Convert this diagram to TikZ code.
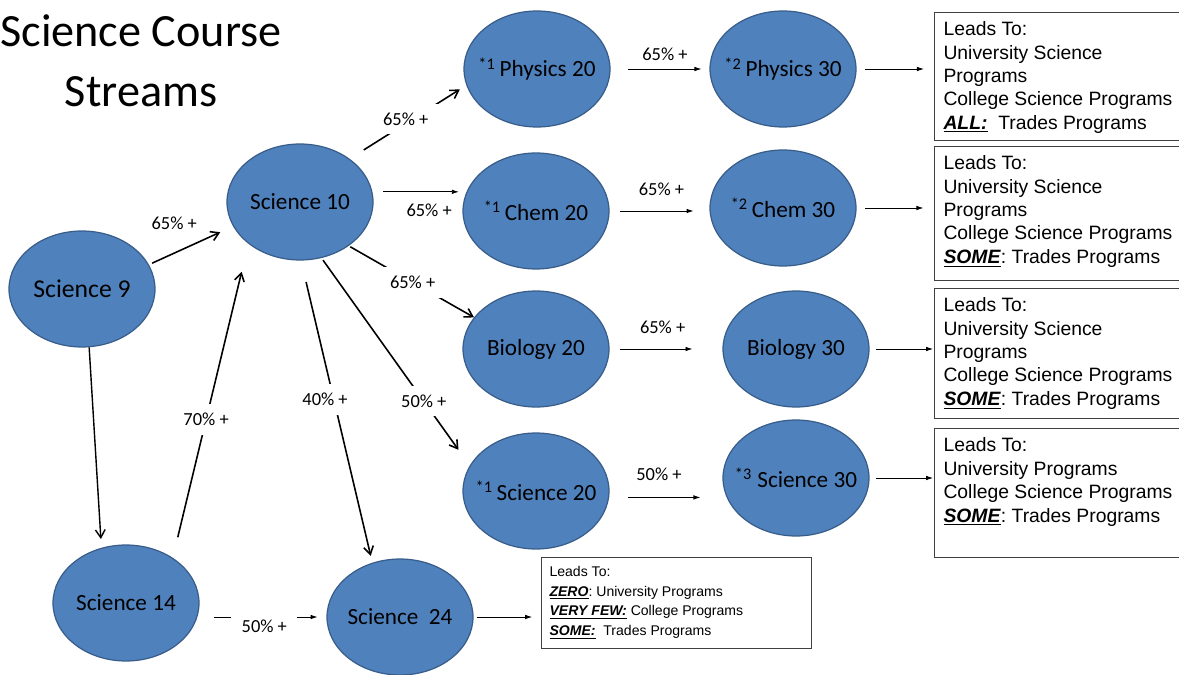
\documentclass[tikz,border=0pt]{standalone}
\usepackage{fontspec}
\usepackage{tikz}
\usetikzlibrary{shapes.geometric,arrows.meta}
\newfontfamily\calibri{Carlito}
\newfontfamily\arial{Liberation Sans}
\definecolor{courseblue}{HTML}{4F81BD}
\definecolor{courseedge}{HTML}{385D8A}
\frenchspacing
\tikzset{
  course/.style={ellipse, fill=courseblue, draw=courseedge, line width=0.7pt,
    minimum width=2.92cm, minimum height=2.32cm, inner xsep=-10pt, inner ysep=0pt,
    font=\calibri\fontsize{13.2}{15}\selectfont},
  leads/.style={draw=black!75, line width=0.6pt, inner xsep=0.18cm, inner ysep=0pt,
    anchor=north west, font=\arial\fontsize{11}{13.3}\selectfont},
  pct/.style={font=\calibri\fontsize{10.5}{12}\selectfont, inner sep=1pt},
  gap/.style={pct, fill=white, inner xsep=6pt, inner ysep=5pt},
  diag/.style={->, >={Straight Barb[length=4.5pt,width=5.5pt]}, line width=0.9pt},
  flat/.style={->, >={Latex[length=4pt,width=2.6pt]}, line width=0.5pt},
}
\newcommand{\leadsbox}[2]{\parbox[c][#1][t]{4.8cm}{\raggedright\rule{0pt}{13.3pt}#2}}
\newcommand{\few}[1]{\underline{\textbf{\textit{#1}}}}

\begin{document}
\begin{tikzpicture}[x=0.02cm,y=-0.02cm]
\useasboundingbox (0,0) rectangle (1179,675);
\node[font=\calibri\fontsize{26.3}{34.6}\selectfont, align=center, anchor=north, inner sep=0pt] (title) at (141,14) {Science Course\\Streams};
% courses
\node[course, font=\calibri\fontsize{14.6}{16}\selectfont] (sci9) at (82,289) {Science 9};
\node[course] (sci10)  at (300,202) {Science 10};
\node[course] (sci14)  at (126,603) {Science 14};
\node[course] (sci24)  at (400,617) {Science\ \ 24};
\node[course] (phy20)  at (537,69)  {\textsuperscript{*1}\,Physics 20};
\node[course] (phy30)  at (783,69)  {\textsuperscript{*2}\,Physics 30};
\node[course] (chem20) at (536,211) {\textsuperscript{*1}\,Chem 20};
\node[course] (chem30) at (783,208) {\textsuperscript{*2}\,Chem 30};
\node[course] (bio20)  at (536,349) {Biology 20};
\node[course] (bio30)  at (796,349) {Biology 30};
\node[course] (sci20)  at (536,491) {\textsuperscript{*1}\,Science 20};
\node[course] (sci30)  at (796,478) {\textsuperscript{*3} Science 30};
% where they lead
\node[leads] (box1) at (934,12)  {\leadsbox{2.56cm}{Leads To:\\University Science\\Programs\\College Science Programs\\\few{ALL:}\ \ Trades Programs}};
\node[leads] (box2) at (934,146) {\leadsbox{2.68cm}{Leads To:\\University Science\\Programs\\College Science Programs\\\few{SOME}: Trades Programs}};
\node[leads] (box3) at (934,288) {\leadsbox{2.6cm}{Leads To:\\University Science\\Programs\\College Science Programs\\\few{SOME}: Trades Programs}};
\node[leads] (box4) at (934,428) {\leadsbox{2.58cm}{Leads To:\\University Programs\\College Science Programs\\\few{SOME}: Trades Programs}};
\node[leads, inner xsep=0.16cm, font=\arial\fontsize{8}{11.2}\selectfont] (box24) at (541,557) {\parbox[c][1.82cm][t]{5.08cm}{\raggedright\rule{0pt}{10.8pt}Leads To:\\\few{ZERO}: University Programs\\\few{VERY FEW:} College Programs\\\few{SOME:}\ \ Trades Programs}};
% streams
\draw[diag, shorten <=2pt, shorten >=8pt] (sci9.20) -- node[pct, above=12pt, pos=0.3] {65\% +} (sci10.200);
\draw[diag, line width=0.8pt, shorten >=5pt] (sci9.-83) -- (sci14.114);
\draw[diag, shorten <=12pt, shorten >=16.4pt] (sci14.44) -- node[gap, pos=0.44] {70\% +} (sci10.219);
\draw[diag, shorten <=9.4pt, shorten >=4.4pt] (sci10.41) -- node[gap, pos=0.48, yshift=2.5pt] {65\% +} (phy20.193);
\draw[flat, shorten <=6pt, shorten >=2pt] (sci10.8) -- node[pct, below=5.5pt, pos=0.63] {65\% +} (sci10.8 -| chem20.west);
\draw[diag, shorten <=1pt] (sci10.-42) -- node[gap, pos=0.51] {65\% +} (bio20.153);
\draw[diag, shorten <=1.5pt, shorten >=11pt] (sci10.-69) -- node[gap, pos=0.69] {50\% +} (sci20.159);
\draw[diag, shorten <=12.5pt, shorten >=4pt] (sci10.-89) -- node[gap, pos=0.46, xshift=-5pt] {40\% +} (sci24.117);
\draw[flat, shorten <=8pt, shorten >=5pt] (sci14.east |- sci24.west) -- node[gap, pos=0.51, yshift=-5pt] {50\% +} (sci24.west);
\draw[flat, shorten <=10pt, shorten >=4.5pt] (phy20.east) -- node[pct, above=3.5pt, pos=0.55] {65\% +} (phy30.west);
\draw[flat, shorten <=5.7pt, shorten >=9pt] (chem20.east) -- node[pct, above=7.5pt, pos=0.52] {65\% +} (chem20.east -| chem30.west);
\draw[flat, shorten <=5.7pt, shorten >=17pt] (bio20.east) -- node[pct, above=7.5pt, pos=0.47] {65\% +} (bio30.west);
\draw[flat, shorten <=10.5pt, shorten >=12.5pt] (sci20.-5) -- node[pct, above=8pt, pos=0.44] {50\% +} (sci20.-5 -| sci30.west);
% to the boxes
\draw[flat, shorten <=5pt, shorten >=5.7pt] (phy30.east) -- (phy30.east -| box1.west);
\draw[flat, shorten <=5pt, shorten >=6pt] (chem30.east) -- (chem30.east -| box2.west);
\draw[flat, shorten <=3.4pt, shorten >=0.5pt] (bio30.east) -- (bio30.east -| box3.west);
\draw[flat, shorten <=3.4pt, shorten >=0.5pt] (sci30.east) -- (sci30.east -| box4.west);
\draw[flat, shorten <=1.7pt, shorten >=5pt] (sci24.east) -- (sci24.east -| box24.west);
\end{tikzpicture}
\end{document}
